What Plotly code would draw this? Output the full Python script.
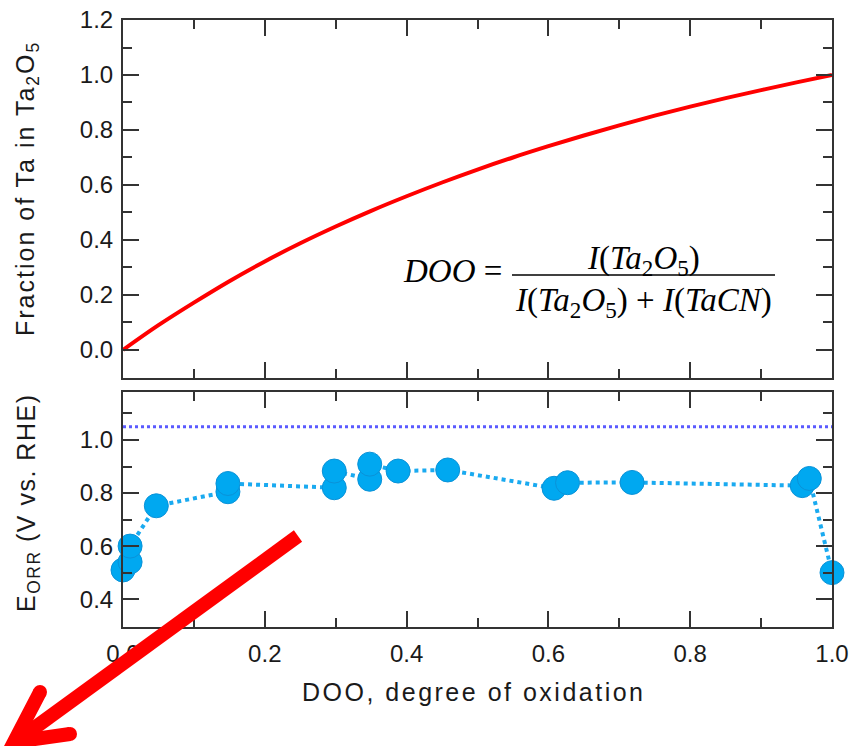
import plotly.graph_objects as go

# ---------------- data ----------------
doo_curve = [0.0, 0.05, 0.10, 0.15, 0.20, 0.25, 0.30, 0.35, 0.40, 0.45, 0.50,
             0.55, 0.60, 0.65, 0.70, 0.75, 0.80, 0.85, 0.90, 0.95, 1.0]
frac_curve = [0.0, 0.09, 0.172, 0.25, 0.322, 0.388, 0.449, 0.506, 0.559, 0.609, 0.656,
              0.70, 0.741, 0.78, 0.817, 0.852, 0.885, 0.916, 0.945, 0.973, 1.0]

doo_pts = [0.0, 0.010, 0.010, 0.047, 0.148, 0.148, 0.298, 0.298, 0.348, 0.348,
           0.388, 0.458, 0.608, 0.627, 0.718, 0.958, 0.968, 1.0]
eorr_pts = [0.51, 0.54, 0.60, 0.752, 0.805, 0.836, 0.82, 0.883, 0.852, 0.909,
            0.883, 0.887, 0.818, 0.839, 0.84, 0.828, 0.855, 0.50]

ref_x = [0.0, 1.0]
ref_e = [1.05, 1.05]

x_ticks = [0.0, 0.2, 0.4, 0.6, 0.8, 1.0]
y1_ticks = [0.0, 0.2, 0.4, 0.6, 0.8, 1.0, 1.2]
y2_ticks = [0.4, 0.6, 0.8, 1.0]

# ---------------- layout geometry (page pixels; body margin removed) ----------------
W, H = 850, 746
X0, X1 = 123, 832     # plot area left/right
Y0, Y1 = 20, 627      # plot area top/bottom
PW, PH = X1 - X0, Y1 - Y0
L, T = X0, Y0
R, B = W - X1, H - Y1


def px(x):
    return (x - X0) / PW


def py(y):
    return (Y1 - y) / PH


AX = '#333333'
TXT = '#1a1a1a'
SANS = 'Liberation Sans, Arial, sans-serif'
SERIF = 'Liberation Serif, Times New Roman, serif'

fig = go.Figure()

fig.add_trace(go.Scatter(
    x=doo_curve, y=frac_curve, mode='lines',
    line=dict(color='#ff0000', width=4, shape='spline'),
    xaxis='x', yaxis='y', cliponaxis=False, showlegend=False))

fig.add_trace(go.Scatter(
    x=ref_x, y=ref_e, mode='lines',
    line=dict(color='#5a5aff', width=3, dash='dot'),
    xaxis='x2', yaxis='y2', showlegend=False))

fig.add_trace(go.Scatter(
    x=doo_pts, y=eorr_pts, mode='lines+markers',
    line=dict(color='#1aaaf0', width=4, dash='dot'),
    marker=dict(size=24, color='#00a8f0', line=dict(color='#0a92d8', width=1)),
    xaxis='x2', yaxis='y2', cliponaxis=False, showlegend=False))

common = dict(
    showline=True, linewidth=2, linecolor=AX, mirror='ticks',
    ticks='inside', ticklen=16, tickwidth=2, tickcolor=AX,
    showgrid=False, zeroline=False,
    tickfont=dict(family=SANS, size=24, color=TXT),
)

fig.update_layout(
    width=W, height=H,
    margin=dict(l=L, r=R, t=T, b=B, autoexpand=False),
    paper_bgcolor='white', plot_bgcolor='white',
    xaxis=dict(domain=[0, 1], anchor='y', range=[0, 1], tickvals=x_ticks,
               showticklabels=False,
               minor=dict(tickvals=[0.1, 0.3, 0.5, 0.7, 0.9], ticklen=9,
                          tickwidth=2, tickcolor=AX, ticks='inside'),
               **common),
    yaxis=dict(domain=[py(378), 1], anchor='x', range=[-0.102, 1.2],
               tickvals=y1_ticks, tickformat='.1f', ticklabelstandoff=3,
               minor=dict(tickvals=[0.1, 0.3, 0.5, 0.7, 0.9, 1.1], ticklen=9,
                          tickwidth=2, tickcolor=AX, ticks='inside'),
               **common),
    xaxis2=dict(domain=[0, 1], anchor='y2', range=[0, 1], tickvals=x_ticks,
                tickformat='.1f', ticklabelstandoff=4,
                minor=dict(tickvals=[0.1, 0.3, 0.5, 0.7, 0.9], ticklen=9,
                           tickwidth=2, tickcolor=AX, ticks='inside'),
                **common),
    yaxis2=dict(domain=[0, py(392)], anchor='x2', range=[0.295, 1.181],
                tickvals=y2_ticks, tickformat='.1f', ticklabelstandoff=3,
                minor=dict(tickvals=[0.5, 0.7, 0.9, 1.1], ticklen=9,
                           tickwidth=2, tickcolor=AX, ticks='inside'),
                **common),
)

ann = []
# axis titles
ann.append(dict(x=px(27), y=py(188), xref='paper', yref='paper', showarrow=False,
                textangle=-90, xanchor='center', yanchor='middle',
                text='<span style="letter-spacing:2px">Fraction of Ta in Ta<sub>2</sub>O<sub>5</sub></span>',
                font=dict(family=SANS, size=25, color=TXT)))
ann.append(dict(x=px(28), y=py(503), xref='paper', yref='paper', showarrow=False,
                textangle=-90, xanchor='center', yanchor='middle',
                text='<span style="letter-spacing:1.5px">E<sub>ORR</sub> (V vs. RHE)</span>',
                font=dict(family=SANS, size=25, color=TXT)))
ann.append(dict(x=px(474), y=py(692), xref='paper', yref='paper', showarrow=False,
                xanchor='center', yanchor='middle',
                text='<span style="letter-spacing:2.5px">DOO, degree of oxidation</span>',
                font=dict(family=SANS, size=25, color=TXT)))
# formula
ann.append(dict(x=px(504), y=py(271), xref='paper', yref='paper', showarrow=False,
                xanchor='right', yanchor='middle',
                text='<i>DOO</i> =',
                font=dict(family=SERIF, size=33, color='black')))
ann.append(dict(x=px(643), y=py(260), xref='paper', yref='paper', showarrow=False,
                xanchor='center', yanchor='middle',
                text='<i>I</i>(<i>Ta</i><sub>2</sub><i>O</i><sub>5</sub>)',
                font=dict(family=SERIF, size=33, color='black')))
ann.append(dict(x=px(643), y=py(302), xref='paper', yref='paper', showarrow=False,
                xanchor='center', yanchor='middle',
                text='<i>I</i>(<i>Ta</i><sub>2</sub><i>O</i><sub>5</sub>) + <i>I</i>(<i>TaCN</i>)',
                font=dict(family=SERIF, size=33, color='black')))
fig.update_layout(annotations=ann)

shapes = []
# fraction bar
shapes.append(dict(type='line', xref='paper', yref='paper',
                   x0=px(512), x1=px(775), y0=py(275), y1=py(275),
                   line=dict(color='black', width=1.5)))
# red arrow (decoration)
shapes.append(dict(type='line', xref='paper', yref='paper', layer='above',
                   x0=px(298), y0=py(536), x1=px(22), y1=py(737),
                   line=dict(color='#ff0000', width=14)))
head = 'M {} {} L {} {} L {} {}'.format(px(40), py(692), px(14), py(742), px(70), py(734))
shapes.append(dict(type='path', xref='paper', yref='paper', layer='above',
                   path=head, line=dict(color='#ff0000', width=14)))
for cx, cy in [(40, 692), (70, 734)]:
    r = 7
    shapes.append(dict(type='circle', xref='paper', yref='paper', layer='above',
                       x0=px(cx - r), x1=px(cx + r), y0=py(cy + r), y1=py(cy - r),
                       fillcolor='#ff0000', line=dict(width=0)))
fig.update_layout(shapes=shapes)

fig.write_html('out.html',
               config={'displayModeBar': False},
               post_script="document.body.style.margin='0';document.body.style.overflow='hidden';")
